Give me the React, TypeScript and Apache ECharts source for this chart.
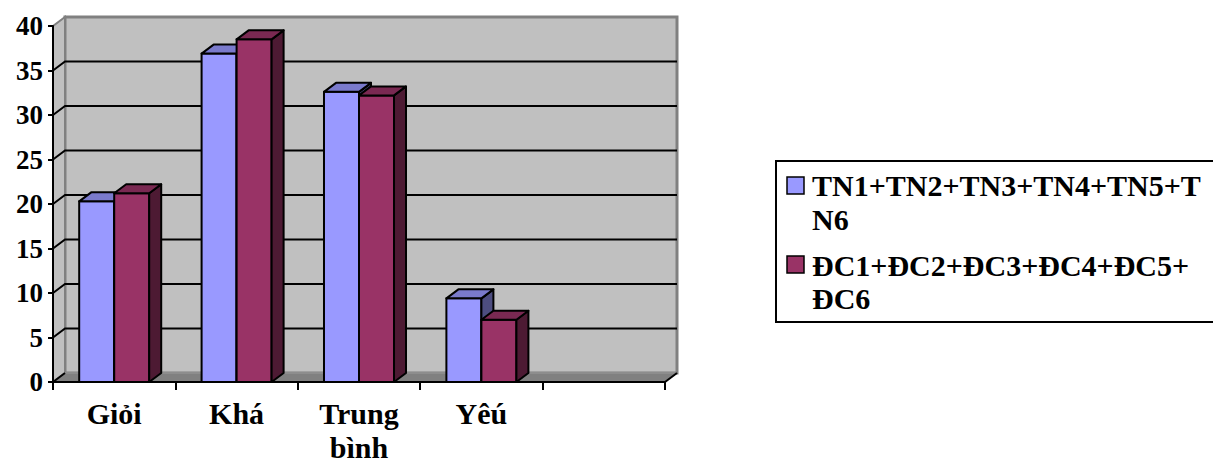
import React, { useEffect, useRef } from "react";
import * as echarts from "echarts";

const categories = ["Giỏi", "Khá", "Trung bình", "Yêú", ""];
const seriesNames = ["TN1+TN2+TN3+TN4+TN5+TN6", "ĐC1+ĐC2+ĐC3+ĐC4+ĐC5+ĐC6"];
const tnValues = [20.3, 36.9, 32.6, 9.4];
const dcValues = [21.2, 38.5, 32.2, 7.0];
const yTicks = [0, 5, 10, 15, 20, 25, 30, 35, 40];
const yMin = 0;
const yMax = 40;
const yStep = 5;

const DX = 12;
const DY = 9;
const FONT = "Liberation Serif";

const barColors = [
  { front: "#9999ff", top: "#7a7acc", side: "#4d4d80" },
  { front: "#993366", top: "#7a2952", side: "#4d1a33" },
];

function makeBarRender(sideIdx: number) {
  const c = barColors[sideIdx];
  return (params: any, api: any) => {
    const i = api.value(0);
    const v = api.value(1);
    const base = api.coord([i, 0]);
    const top = api.coord([i, v]);
    const band = api.size([1, 0])[0];
    const w = band * 0.286;
    const x0 = sideIdx === 0 ? base[0] - w : base[0];
    const x1 = x0 + w;
    const yb = base[1];
    const yt = top[1];
    const stroke = { stroke: "#000", lineWidth: 2, lineJoin: "round" };
    return {
      type: "group",
      children: [
        {
          type: "polygon",
          shape: { points: [[x0, yb], [x1, yb], [x1, yt], [x0, yt]] },
          style: { fill: c.front, ...stroke },
        },
        {
          type: "polygon",
          shape: { points: [[x1, yb], [x1 + DX, yb - DY], [x1 + DX, yt - DY], [x1, yt]] },
          style: { fill: c.side, ...stroke },
        },
        {
          type: "polygon",
          shape: { points: [[x0, yt], [x0 + DX, yt - DY], [x1 + DX, yt - DY], [x1, yt]] },
          style: { fill: c.top, ...stroke },
        },
      ],
    };
  };
}

function frameRender(params: any, api: any) {
  const cs = params.coordSys;
  const L = cs.x;
  const R = cs.x + cs.width;
  const yTop = cs.y;
  const yBot = cs.y + cs.height;
  const v = api.value(1);
  const y = api.coord([0, v])[1];
  const children: any[] = [];
  if (params.dataIndex === 0) {
    children.push({
      type: "rect",
      shape: { x: L + DX, y: yTop - DY, width: cs.width, height: cs.height },
      style: { fill: "#c0c0c0", stroke: "#808080", lineWidth: 3 },
    });
    children.push({
      type: "polygon",
      shape: { points: [[L, yTop], [L + DX, yTop - DY], [L + DX, yBot - DY], [L, yBot]] },
      style: { fill: "#c0c0c0", stroke: "#808080", lineWidth: 2 },
    });
    children.push({
      type: "polygon",
      shape: { points: [[L, yBot], [L + DX, yBot - DY], [R + DX, yBot - DY], [R, yBot]] },
      style: { fill: "#808080", stroke: "#9a9a9a", lineWidth: 1 },
    });
    children.push({
      type: "line",
      shape: { x1: L, y1: yBot, x2: L + DX, y2: yBot - DY },
      style: { stroke: "#000", lineWidth: 2 },
    });
    children.push({
      type: "line",
      shape: { x1: R, y1: yBot, x2: R + DX, y2: yBot - DY },
      style: { stroke: "#000", lineWidth: 2 },
    });
  }
  if (v > yMin && v < yMax) {
    children.push({
      type: "polyline",
      shape: { points: [[L, y], [L + DX, y - DY], [R + DX, y - DY]] },
      style: { stroke: "#000", lineWidth: 2, fill: null },
    });
  }
  return { type: "group", children };
}

export default function App() {
  const ref = useRef<HTMLDivElement>(null);
  useEffect(() => {
    if (!ref.current) return;
    const chart = echarts.init(ref.current, null, { renderer: "svg" });
    const legendText = (name: string, cut: number) => name.slice(0, cut) + "\n" + name.slice(cut);
    chart.setOption({
      animation: false,
      backgroundColor: "#ffffff",
      grid: {
        left: 53,
        right: 548,
        top: 26,
        bottom: 82,
        containLabel: false,
        outerBoundsMode: "none",
      },
      xAxis: {
        type: "category",
        data: categories,
        z: 10,
        axisLine: { show: true, lineStyle: { color: "#000", width: 2 } },
        axisTick: { show: true, length: 8, interval: 0, lineStyle: { color: "#000", width: 2 } },
        splitLine: { show: false },
        axisLabel: {
          interval: 0,
          margin: 14,
          color: "#000",
          fontFamily: FONT,
          fontWeight: "bold",
          fontSize: 30,
          lineHeight: 34,
          formatter: (s: string) => s.replace(" ", "\n"),
        },
      },
      yAxis: {
        type: "value",
        min: yMin,
        max: yMax,
        interval: yStep,
        z: 10,
        axisLine: { show: true, lineStyle: { color: "#000", width: 2 } },
        axisTick: { show: true, length: 5, lineStyle: { color: "#000", width: 2 } },
        splitLine: { show: false },
        axisLabel: {
          margin: 10,
          color: "#000",
          fontFamily: FONT,
          fontWeight: "bold",
          fontSize: 27,
        },
      },
      series: [
        {
          type: "custom",
          name: "frame",
          z: 1,
          silent: true,
          data: yTicks.map((t) => [0, t]),
          encode: { x: 0, y: 1 },
          renderItem: frameRender,
        },
        {
          type: "custom",
          name: seriesNames[0],
          z: 3,
          data: tnValues.map((v, i) => [i, v]),
          encode: { x: 0, y: 1 },
          renderItem: makeBarRender(0),
        },
        {
          type: "custom",
          name: seriesNames[1],
          z: 4,
          data: dcValues.map((v, i) => [i, v]),
          encode: { x: 0, y: 1 },
          renderItem: makeBarRender(1),
        },
      ],
      graphic: [
        {
          type: "rect",
          shape: { x: 776, y: 161, width: 460, height: 161 },
          style: { fill: "#fff", stroke: "#000", lineWidth: 2 },
        },
        {
          type: "rect",
          shape: { x: 787, y: 177, width: 17, height: 17 },
          style: { fill: barColors[0].front, stroke: "#000", lineWidth: 1.5 },
        },
        {
          type: "rect",
          shape: { x: 787, y: 256, width: 17, height: 17 },
          style: { fill: barColors[1].front, stroke: "#000", lineWidth: 1.5 },
        },
        {
          type: "text",
          x: 812,
          y: 168,
          style: {
            text: legendText(seriesNames[0], 21),
            fill: "#000",
            fontFamily: FONT,
            fontWeight: "bold",
            fontSize: 30,
            lineHeight: 34,
            verticalAlign: "top",
            align: "left",
          },
        },
        {
          type: "text",
          x: 812,
          y: 249,
          style: {
            text: legendText(seriesNames[1], 20),
            fill: "#000",
            fontFamily: FONT,
            fontWeight: "bold",
            fontSize: 30,
            lineHeight: 33,
            verticalAlign: "top",
            align: "left",
          },
        },
      ],
    });
    return () => chart.dispose();
  }, []);
  return (
    <div
      ref={ref}
      style={{ position: "absolute", left: 0, top: 0, width: 1213, height: 464 }}
    />
  );
}
